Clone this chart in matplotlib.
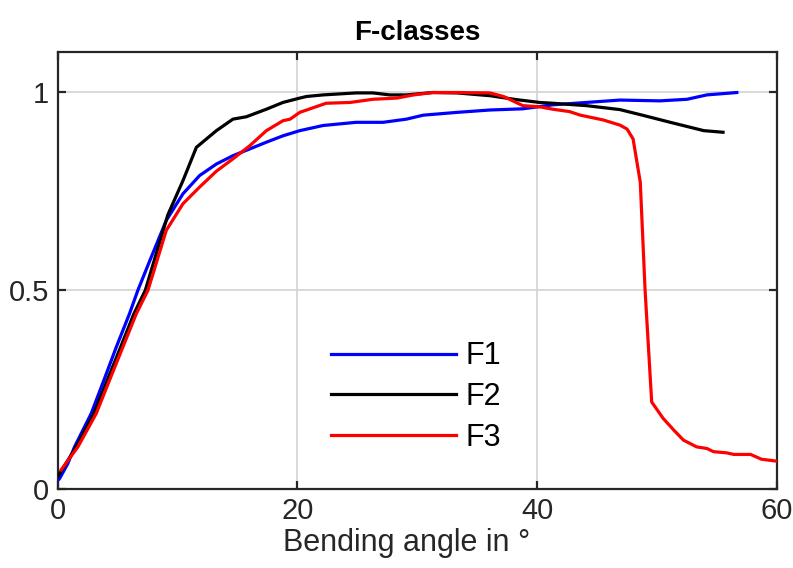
import matplotlib
matplotlib.use("Agg")
import matplotlib.pyplot as plt

plt.rcParams['font.family'] = ['Liberation Sans', 'DejaVu Sans']

# ---- data ----
f1_x = [0.0, 0.15, 0.86, 1.42, 2.81, 3.87, 4.9, 6.0, 6.7, 7.7, 9.07, 10.46, 11.85, 13.25,
        14.63, 16.03, 17.42, 18.8, 20.2, 22.15, 24.9, 27.15, 29.1, 30.5, 33.3, 36.06,
        38.8, 41.3, 44.1, 46.9, 50.25, 52.5, 54.15, 56.65]
f1_y = [0.022, 0.025, 0.064, 0.106, 0.19, 0.274, 0.357, 0.441, 0.5, 0.575, 0.676, 0.743,
        0.789, 0.818, 0.839, 0.856, 0.873, 0.889, 0.902, 0.915, 0.923, 0.923, 0.931,
        0.941, 0.948, 0.954, 0.957, 0.967, 0.973, 0.979, 0.977, 0.981, 0.992, 0.998]

f2_x = [0.0, 0.15, 1.55, 3.03, 4.15, 5.26, 6.37, 7.32, 9.2, 10.46, 11.58, 13.25, 14.63,
        15.75, 17.42, 18.8, 20.2, 20.76, 22.15, 24.9, 26.3, 27.7, 29.1, 31.3, 33.3,
        36.06, 38.3, 40.2, 41.3, 44.1, 46.9, 48.9, 51.1, 53.9, 55.5]
f2_y = [0.03, 0.037, 0.106, 0.19, 0.274, 0.357, 0.441, 0.5, 0.69, 0.776, 0.86, 0.902,
        0.931, 0.937, 0.956, 0.973, 0.984, 0.988, 0.992, 0.997, 0.997, 0.992, 0.992,
        0.998, 0.997, 0.99, 0.98, 0.973, 0.971, 0.965, 0.955, 0.94, 0.923, 0.902, 0.898]

f3_x = [0.3, 1.7, 3.23, 4.34, 5.45, 6.57, 7.54, 9.07, 10.46, 11.85, 13.25, 14.63, 16.03,
        17.42, 18.8, 19.4, 20.2, 22.4, 24.4, 26.3, 28.3, 29.7, 31.3, 33.3, 36.06, 37.2,
        38.8, 40.2, 41.3, 42.7, 43.6, 45.5, 46.9, 47.5, 48.0, 48.6, 49.0, 49.55, 50.5,
        51.4, 52.2, 53.3, 54.15, 54.7, 55.8, 56.4, 57.8, 58.7, 60.0]
f3_y = [0.048, 0.106, 0.19, 0.274, 0.357, 0.441, 0.5, 0.651, 0.718, 0.76, 0.8, 0.831,
        0.864, 0.902, 0.927, 0.931, 0.948, 0.971, 0.973, 0.981, 0.984, 0.992, 0.998,
        0.998, 0.997, 0.988, 0.965, 0.962, 0.956, 0.95, 0.941, 0.929, 0.916, 0.906,
        0.881, 0.772, 0.5, 0.219, 0.178, 0.148, 0.123, 0.106, 0.102, 0.094, 0.091,
        0.087, 0.087, 0.075, 0.070]

series_labels = ['F1', 'F2', 'F3']
x_ticks = [0, 20, 40, 60]
y_ticks = [0, 0.5, 1]
y_tick_labels = ['0', '0.5', '1']

fig = plt.figure(figsize=(7.93, 5.68), dpi=100)
ax = fig.add_axes([57.5 / 793, 1 - 489 / 568, (777 - 57.5) / 793, (489 - 52) / 568])

lw = 2.3
ax.plot(f1_x, f1_y, color='#0000ff', lw=lw, label=series_labels[0], zorder=3)
ax.plot(f2_x, f2_y, color='#000000', lw=lw, label=series_labels[1], zorder=3)
ax.plot(f3_x, f3_y, color='#ff0000', lw=lw, label=series_labels[2], zorder=3)

ax.set_xlim(0, 60)
ax.set_ylim(0, 1.1)
ax.set_xticks(x_ticks)
ax.set_yticks(y_ticks)
ax.set_yticklabels(y_tick_labels)
ax.grid(True, color='#d6d6d6', lw=1.3)
ax.set_axisbelow(True)

for s in ax.spines.values():
    s.set_color('#262626')
    s.set_linewidth(1.6)
ax.tick_params(direction='in', length=6, width=1.6, color='#262626',
               top=True, right=True, labelsize=21, labelcolor='#262626', pad=6)

ax.set_xlabel('Bending angle in °', fontsize=22, color='#262626', labelpad=2)
ax.xaxis.label.set_x(0.485)
ax.set_title('F-classes', fontsize=20, fontweight='bold', pad=9)

ax.legend(loc='center left', bbox_to_anchor=(0.38, 0.2105), frameon=False,
          fontsize=22, handlelength=4.1, handletextpad=0.3, labelspacing=0.35,
          borderpad=0, borderaxespad=0)

fig.savefig('out.png', dpi=100)
